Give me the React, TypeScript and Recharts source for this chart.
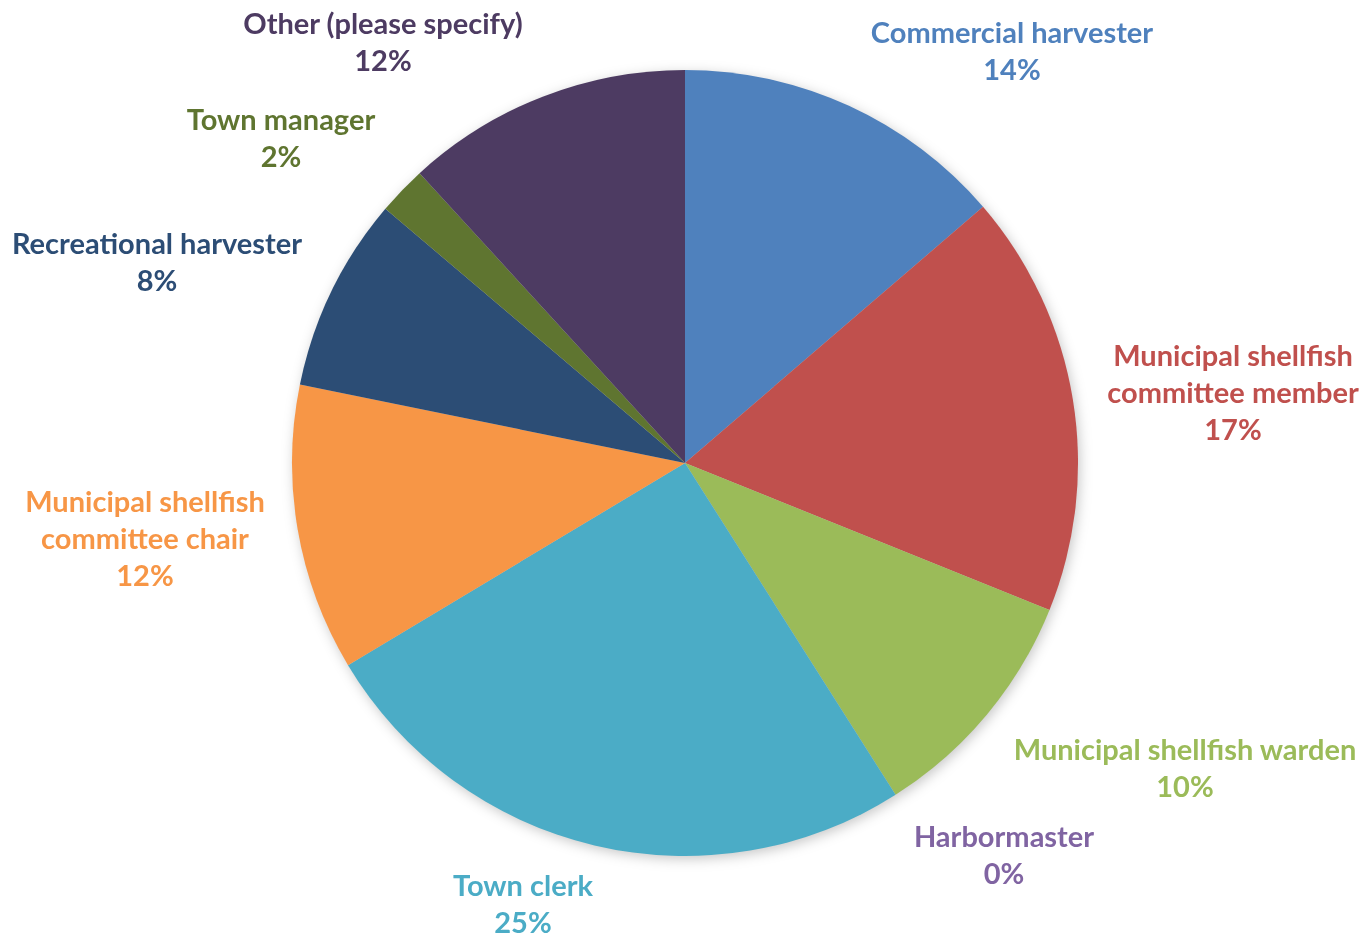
import { Cell, Pie, PieChart } from "recharts";

// survey respondents by role, share in percent
const roles = [
  "Commercial harvester",
  "Municipal shellfish committee member",
  "Municipal shellfish warden",
  "Harbormaster",
  "Town clerk",
  "Municipal shellfish committee chair",
  "Recreational harvester",
  "Town manager",
  "Other (please specify)",
];
const shares = [13.7, 17.4, 9.9, 0, 25.4, 11.8, 8.0, 2.0, 11.8];
const labelLines = [
  ["Commercial harvester"],
  ["Municipal shellfish", "committee member"],
  ["Municipal shellfish warden"],
  ["Harbormaster"],
  ["Town clerk"],
  ["Municipal shellfish", "committee chair"],
  ["Recreational harvester"],
  ["Town manager"],
  ["Other (please specify)"],
];

const colors = [
  "#4F81BD",
  "#C0504D",
  "#9BBB59",
  "#8064A2",
  "#4BACC6",
  "#F79646",
  "#2C4D75",
  "#5F7530",
  "#4D3B62",
];
// label block centres, offset from the pie centre (px)
const labelOffsets = [
  [327, -413],
  [548, -72],
  [500, 304],
  [319, 391],
  [-162, 440],
  [-540, 74],
  [-528, -202],
  [-404, -326],
  [-302, -422],
];

const total = shares.reduce((a, b) => a + b, 0);
const data = roles.map((name, i) => ({ name, value: shares[i] }));

function renderLabel(props: any) {
  const { cx, cy, index } = props;
  const [dx, dy] = labelOffsets[index];
  const lines = [...labelLines[index], `${Math.round((shares[index] / total) * 100)}%`];
  const lh = 37;
  const startY = cy + dy - ((lines.length - 1) * lh) / 2;
  return (
    <text
      key={`lbl-${index}`}
      x={cx + dx}
      y={startY}
      textAnchor="middle"
      fill={colors[index]}
      fontFamily="Lato, 'Open Sans', sans-serif"
      fontWeight={700}
      fontSize={29}
    >
      {lines.map((t, i) => (
        <tspan key={i} x={cx + dx} y={startY + i * lh} dominantBaseline="central">
          {t}
        </tspan>
      ))}
    </text>
  );
}

export default function App() {
  return (
    <div style={{ position: "absolute", left: 0, top: 0, width: 1365, height: 935, background: "#fff" }}>
      <style>{`.pie-shadow { filter: blur(4px); }`}</style>
      <PieChart width={1365} height={935} margin={{ top: 0, right: 0, bottom: 0, left: 0 }}>
        {/* soft shadow under the pie */}
        <Pie
          data={data}
          dataKey="value"
          cx={687}
          cy={466}
          outerRadius={393}
          startAngle={90}
          endAngle={-270}
          stroke="none"
          fill="#000"
          fillOpacity={0.22}
          className="pie-shadow"
          label={false}
          labelLine={false}
          isAnimationActive={false}
        />
        <Pie
          data={data}
          dataKey="value"
          nameKey="name"
          cx={685}
          cy={463}
          outerRadius={393}
          startAngle={90}
          endAngle={-270}
          stroke="none"
          label={renderLabel}
          labelLine={false}
          isAnimationActive={false}
        >
          {data.map((d, i) => (
            <Cell key={d.name} fill={colors[i]} />
          ))}
        </Pie>
      </PieChart>
    </div>
  );
}
